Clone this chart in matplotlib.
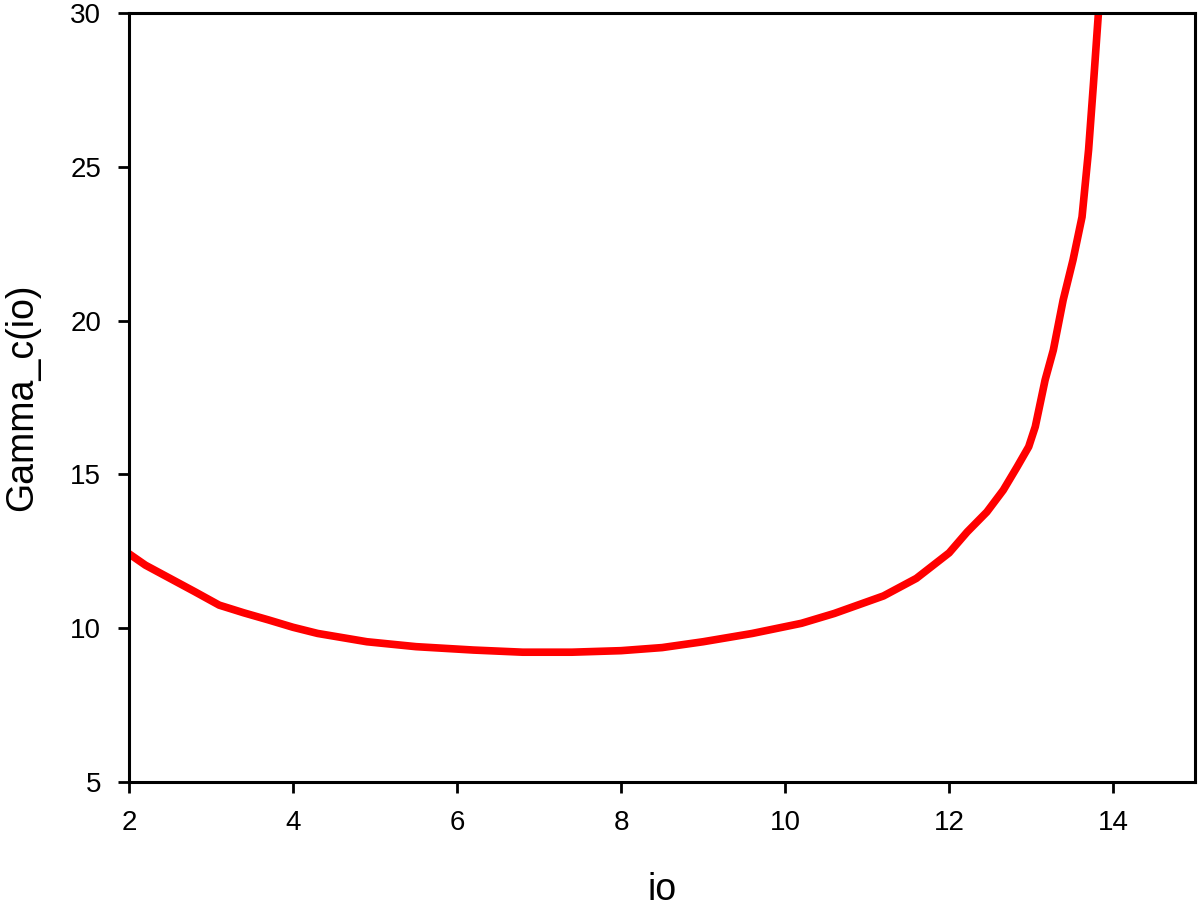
import matplotlib
matplotlib.use('Agg')
import matplotlib.pyplot as plt

# values
io = [2.0, 2.2, 2.5, 2.8, 3.1, 3.4, 3.7, 4.0, 4.3, 4.9, 5.5, 6.2, 6.8,
      7.4, 8.0, 8.5, 9.0, 9.6, 10.2, 10.6, 11.0, 11.2, 11.6, 12.0, 12.22,
      12.46, 12.66, 12.83, 12.97, 13.05, 13.11, 13.17, 13.27, 13.39,
      13.51, 13.62, 13.70, 13.76, 13.82]
gamma_c = [12.42, 12.05, 11.62, 11.19, 10.75, 10.50, 10.27, 10.03, 9.83,
           9.56, 9.40, 9.29, 9.22, 9.22, 9.27, 9.37, 9.56, 9.83, 10.16,
           10.48, 10.86, 11.05, 11.62, 12.45, 13.13, 13.78, 14.49, 15.25,
           15.90, 16.55, 17.31, 18.07, 19.04, 20.67, 21.97, 23.37, 25.55,
           27.72, 30.0]

xticks = [2, 4, 6, 8, 10, 12, 14]
yticks = [5, 10, 15, 20, 25, 30]

plt.rcParams['font.family'] = ['Liberation Sans', 'DejaVu Sans']

fig = plt.figure(figsize=(12, 9.11), dpi=100)
ax = fig.add_axes([0.1075, 0.1416, 0.8885, 0.8441])
ax.plot(io, gamma_c, '-', color='#ff0000', lw=5.5, solid_joinstyle='round')
ax.set_xlim(2, 15)
ax.set_ylim(5, 30)
ax.set_xticks(xticks)
ax.set_yticks(yticks)
ax.tick_params(direction='out', length=8, width=2, labelsize=20, pad=12)
for s in ax.spines.values():
    s.set_linewidth(2.2)
ax.set_xlabel('io', fontsize=27, labelpad=26)
ax.set_ylabel('Gamma_c(io)', fontsize=27, labelpad=22)

fig.savefig('out.png', dpi=100)
